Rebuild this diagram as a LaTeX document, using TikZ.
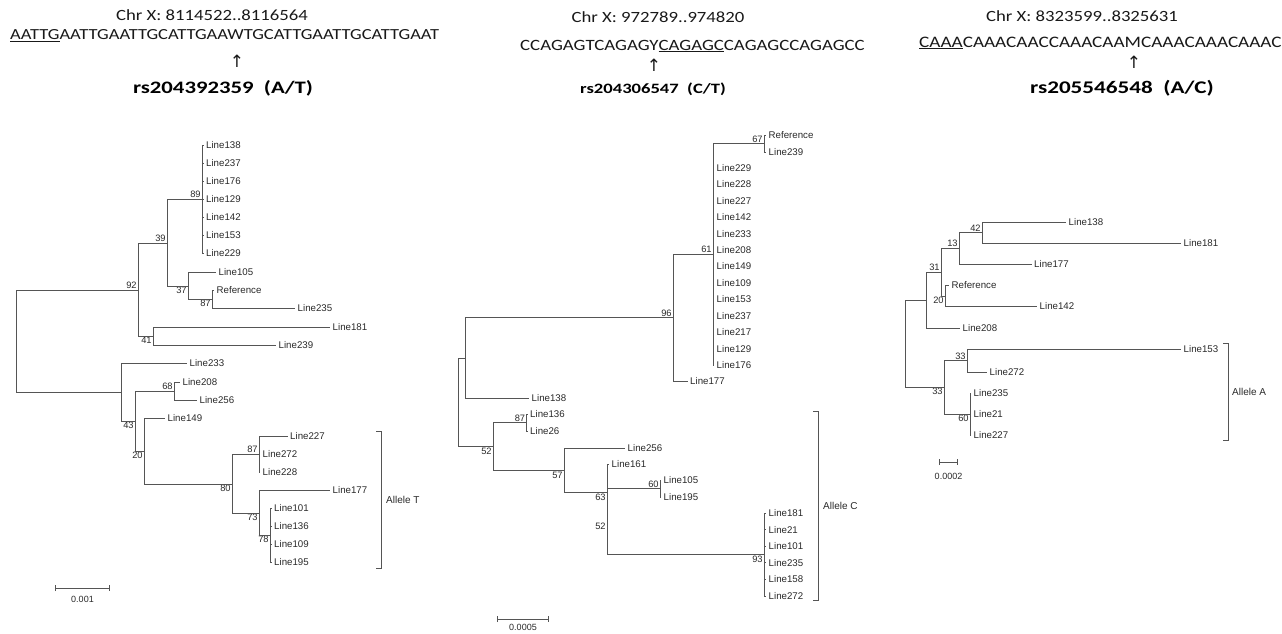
\documentclass[tikz,border=0pt]{standalone}
\usepackage{fontspec}
\usepackage{xcolor}
\usetikzlibrary{arrows.meta, positioning}
\setmainfont{Liberation Sans}
\newfontfamily\hdrfont[FakeStretch=1.2]{Carlito}
\newfontfamily\rsfont[FakeStretch=1.3]{Carlito}
\newfontfamily\symfont{DejaVu Sans}
\definecolor{branchgray}{HTML}{555555}
\definecolor{labelgray}{HTML}{2A2A2A}

\begin{document}
\begin{tikzpicture}[x=1pt, y=-1pt,
  br/.style      = {draw=branchgray, line width=0.85pt},
  bracket/.style = {draw=branchgray, line width=0.9pt},
  leaf/.style    = {anchor=west, inner sep=2.5pt, text=labelgray,
                    font=\fontsize{9.7}{11}\selectfont},
  bs/.style      = {inner sep=1.2pt, text=labelgray,
                    font=\fontsize{9.3}{10}\selectfont},
  allele/.style  = {inner sep=1pt, text=labelgray,
                    font=\fontsize{10}{12}\selectfont},
  sbar/.style    = {br, {Bar[width=6pt]}-{Bar[width=6pt]}},
  scl/.style     = {inner sep=1pt, text=labelgray,
                    font=\fontsize{9}{10}\selectfont},
  chr/.style     = {inner sep=0pt, text=black!90,
                    font=\hdrfont\fontsize{15.6}{18}\selectfont},
  seq/.style     = {anchor=west, inner sep=0pt, text=black!90},
  rsid/.style    = {inner sep=0pt, text=black},
  snp/.style     = {inner sep=0pt, text=black!90,
                    font=\symfont\fontsize{17}{18}\selectfont},
]
\path[fill=white, use as bounding box] (0,0) rectangle (1282,634);

  % headers
  \node[chr] (h1-chr) at (212,15) {Chr X: 8114522..8116564};
  \node[seq, font=\hdrfont\fontsize{15.4}{18}\selectfont] (h1-seq) at (10,36)
    {\underline{AATTG}AATTGAATTGCATTGAAWTGCATTGAATTGCATTGAAT};
  \node[snp] (h1-arr) at (237,61) {↑};
  \node[rsid, font=\rsfont\bfseries\fontsize{17.5}{22}\selectfont] (h1-rs) at (223,88)
    {rs204392359~~(A/T)};

  \node[chr] (h2-chr) at (658,17) {Chr X: 972789..974820};
  \node[seq, font=\hdrfont\fontsize{15.7}{18}\selectfont] (h2-seq) at (520,46)
    {CCAGAGTCAGAGY\underline{CAGAGC}CAGAGCCAGAGCC};
  \node[snp] (h2-arr) at (654,65) {↑};
  \node[rsid, font=\rsfont\bfseries\fontsize{14.3}{18}\selectfont] (h2-rs) at (653,89)
    {rs204306547~~(C/T)};

  \node[chr] (h3-chr) at (1082,16) {Chr X: 8323599..8325631};
  \node[seq, font=\hdrfont\fontsize{16}{18}\selectfont] (h3-seq) at (919,43)
    {\underline{CAAA}CAAACAACCAAACAAMCAAACAAACAAAC};
  \node[snp] (h3-arr) at (1134,62) {↑};
  \node[rsid, font=\rsfont\bfseries\fontsize{17.8}{22}\selectfont] (h3-rs) at (1122,88)
    {rs205546548~~(A/C)};

  % tree 1
  \coordinate (a-root) at (16,341);
  \coordinate[label={[bs]above left:92}] (a-92)  at (138,290);
  \coordinate[label={[bs]above left:39}] (a-39)  at (167,243);
  \coordinate[label={[bs]above left:89}] (a-89)  at (202,199);
  \coordinate[label={[bs]below left:37}] (a-37)  at (188,286);
  \coordinate[label={[bs]below left:87}] (a-87r) at (212,299);
  \coordinate[label={[bs]below left:41}] (a-41)  at (153,336);
  \coordinate (a-x) at (121,392);
  \coordinate[label={[bs]below left:43}] (a-43)  at (135,421);
  \coordinate[label={[bs]above left:68}] (a-68)  at (174,391);
  \coordinate[label={[bs]below left:20}] (a-20)  at (144,451);
  \coordinate[label={[bs]below left:80}] (a-80)  at (232,484);
  \coordinate[label={[bs]above left:87}] (a-87)  at (259,454);
  \coordinate[label={[bs]below left:73}] (a-73)  at (259,513);
  \coordinate[label={[bs]below left:78}] (a-78)  at (270,535);

  \foreach \n/\y in {138/145, 237/163, 176/181, 129/199, 142/217, 153/235, 229/253}
    \node[leaf] (a\n) at (203.5,\y) {Line\n};
  \node[leaf] (a105) at (216,272) {Line105};
  \node[leaf] (aref) at (214,290) {Reference};
  \node[leaf] (a235) at (295,308) {Line235};
  \node[leaf] (a181) at (330,327) {Line181};
  \node[leaf] (a239) at (276,345) {Line239};
  \node[leaf] (a233) at (187,363) {Line233};
  \node[leaf] (a208) at (180,382) {Line208};
  \node[leaf] (a256) at (197,400) {Line256};
  \node[leaf] (a149) at (165,418) {Line149};
  \node[leaf] (a227) at (287.5,436) {Line227};
  \node[leaf] (a272) at (260,454) {Line272};
  \node[leaf] (a228) at (260,472) {Line228};
  \node[leaf] (a177) at (330,490) {Line177};
  \foreach \n/\y in {101/508, 136/526, 109/544, 195/562}
    \node[leaf] (a\n) at (271.5,\y) {Line\n};

  \draw[br] (a-root) |- (a-92)  (a-root) |- (a-x)
            (a-92) |- (a-39)  (a-92) |- (a-41)
            (a-39) |- (a-89)  (a-39) |- (a-37)
            (a-37) |- (a105.west)  (a-37) |- (a-87r)
            (a-87r) |- (aref.west)  (a-87r) |- (a235.west)
            (a-41) |- (a181.west)  (a-41) |- (a239.west)
            (a-x) |- (a233.west)  (a-x) |- (a-43)
            (a-43) |- (a-68)  (a-43) |- (a-20)
            (a-68) |- (a208.west)  (a-68) |- (a256.west)
            (a-20) |- (a149.west)  (a-20) |- (a-80)
            (a-80) |- (a-87)  (a-80) |- (a-73)
            (a-87) |- (a227.west)  (a-87) |- (a272.west)  (a-87) |- (a228.west)
            (a-73) |- (a177.west)  (a-73) |- (a-78);
  \foreach \n in {138,237,176,129,142,153,229} \draw[br] (a-89) |- (a\n.west);
  \foreach \n in {101,136,109,195} \draw[br] (a-78) |- (a\n.west);

  \coordinate (a-top) at (381,431);
  \coordinate (a-bot) at (381,568);
  \draw[bracket] ([xshift=-5pt]a-top) -- (a-top) -- (a-bot) -- ([xshift=-5pt]a-bot);
  \path (a-top) -- (a-bot) coordinate[midway] (a-mid);
  \node[allele, right=4pt of a-mid] (a-allele) {Allele T};

  \coordinate (a-s1) at (55,588);
  \coordinate (a-s2) at (110,588);
  \draw[sbar] (a-s1) -- (a-s2);
  \node[scl] (a-scl) at (82.5,599) {0.001};

  % tree 2
  \coordinate (b-root) at (458,402.5);
  \coordinate (b-u) at (465,358);
  \coordinate[label={[bs]above left:96}] (b-96)  at (673,317.5);
  \coordinate[label={[bs]above left:61}] (b-61)  at (713,254);
  \coordinate[label={[bs]above left:67}] (b-67)  at (764,143.5);
  \coordinate[label={[bs]below left:52}] (b-52)  at (493,446.5);
  \coordinate[label={[bs]above left:87}] (b-87)  at (526.5,422.5);
  \coordinate[label={[bs]below left:57}] (b-57)  at (564,470.5);
  \coordinate[label={[bs]below left:63}] (b-63)  at (607,492.5);
  \coordinate[label={[bs]below left:52}] (b-52b) at (607,521.5);
  \coordinate[label={[bs]above left:60}] (b-60)  at (660,488.5);
  \coordinate[label={[bs]below left:93}] (b-93)  at (764,554.5);

  \node[leaf] (bref) at (766,135) {Reference};
  \node[leaf] (b239) at (766,152) {Line239};
  \foreach \n/\y in {229/168, 228/184.4, 227/200.8, 142/217.3, 233/233.7, 208/250.1,
                     149/266.5, 109/282.9, 153/299.4, 237/315.8, 217/332.2, 129/348.6, 176/365}
    \node[leaf] (b\n) at (714,\y) {Line\n};
  \node[leaf] (b177) at (687.5,381) {Line177};
  \node[leaf] (b138) at (529,398) {Line138};
  \node[leaf] (b136) at (527.5,414) {Line136};
  \node[leaf] (b26)  at (527.5,431) {Line26};
  \node[leaf] (b256) at (625,448) {Line256};
  \node[leaf] (b161) at (609,464) {Line161};
  \node[leaf] (b105) at (661,480) {Line105};
  \node[leaf] (b195) at (661,497) {Line195};
  \foreach \n/\y in {181/513, 21/529.6, 101/546.2, 235/562.8, 158/579.4, 272/596}
    \node[leaf] (b\n) at (766,\y) {Line\n};

  \draw[br] (b-root) |- (b-u)  (b-root) |- (b-52)
            (b-u) |- (b-96)  (b-u) |- (b138.west)
            (b-96) |- (b-61)  (b-96) |- (b177.west)
            (b-61) |- (b-67)
            (b-67) |- (bref.west)  (b-67) |- (b239.west)
            (b-52) |- (b-87)  (b-52) |- (b-57)
            (b-87) |- (b136.west)  (b-87) |- (b26.west)
            (b-57) |- (b256.west)  (b-57) |- (b-63)
            (b-63) |- (b161.west)  (b-63) |- (b-52b)
            (b-52b) |- (b-60)  (b-52b) |- (b-93)
            (b-60) |- (b105.west)  (b-60) |- (b195.west);
  \foreach \n in {229,228,227,142,233,208,149,109,153,237,217,129,176}
    \draw[br] (b-61) |- (b\n.west);
  \foreach \n in {181,21,101,235,158,272} \draw[br] (b-93) |- (b\n.west);

  \coordinate (b-top) at (818,411);
  \coordinate (b-bot) at (818,600);
  \draw[bracket] ([xshift=-5pt]b-top) -- (b-top) -- (b-bot) -- ([xshift=-5pt]b-bot);
  \path (b-top) -- (b-bot) coordinate[midway] (b-mid);
  \node[allele, right=4pt of b-mid] (b-allele) {Allele C};

  \coordinate (b-s1) at (497,619);
  \coordinate (b-s2) at (549,619);
  \draw[sbar] (b-s1) -- (b-s2);
  \node[scl] (b-scl) at (523,627.5) {0.0005};

  % tree 3
  \coordinate (c-root) at (905,343.5);
  \coordinate (c-x) at (926,300);
  \coordinate[label={[bs]above left:31}] (c-31)  at (941,272);
  \coordinate[label={[bs]above left:13}] (c-13)  at (959,248);
  \coordinate[label={[bs]above left:42}] (c-42)  at (982,232.5);
  \coordinate[label={[bs]below left:20}] (c-20)  at (945,296);
  \coordinate[label={[bs]below left:33}] (c-33b) at (944,387);
  \coordinate[label={[bs]above left:33}] (c-33a) at (967,360.5);
  \coordinate[label={[bs]below left:60}] (c-60)  at (970,414);

  \node[leaf] (c138) at (1066,222) {Line138};
  \node[leaf] (c181) at (1181,243) {Line181};
  \node[leaf] (c177) at (1031.5,264) {Line177};
  \node[leaf] (cref) at (949,285) {Reference};
  \node[leaf] (c142) at (1037,306) {Line142};
  \node[leaf] (c208) at (960,328) {Line208};
  \node[leaf] (c153) at (1181,349) {Line153};
  \node[leaf] (c272) at (987,372) {Line272};
  \foreach \n/\y in {235/393, 21/414, 227/435}
    \node[leaf] (c\n) at (971,\y) {Line\n};

  \draw[br] (c-root) |- (c-x)  (c-root) |- (c-33b)
            (c-x) |- (c-31)  (c-x) |- (c208.west)
            (c-31) |- (c-13)  (c-31) |- (c-20)
            (c-13) |- (c-42)  (c-13) |- (c177.west)
            (c-42) |- (c138.west)  (c-42) |- (c181.west)
            (c-20) |- (cref.west)  (c-20) |- (c142.west)
            (c-33b) |- (c-33a)  (c-33b) |- (c-60)
            (c-33a) |- (c153.west)  (c-33a) |- (c272.west);
  \foreach \n in {235,21,227} \draw[br] (c-60) |- (c\n.west);

  \coordinate (c-top) at (1228,343);
  \coordinate (c-bot) at (1228,440);
  \draw[bracket] ([xshift=-5pt]c-top) -- (c-top) -- (c-bot) -- ([xshift=-5pt]c-bot);
  \path (c-top) -- (c-bot) coordinate[midway] (c-mid);
  \node[allele, right=3pt of c-mid] (c-allele) {Allele A};

  \coordinate (c-s1) at (939,462);
  \coordinate (c-s2) at (958,462);
  \draw[sbar] (c-s1) -- (c-s2);
  \node[scl] (c-scl) at (948.5,476) {0.0002};
\end{tikzpicture}
\end{document}
